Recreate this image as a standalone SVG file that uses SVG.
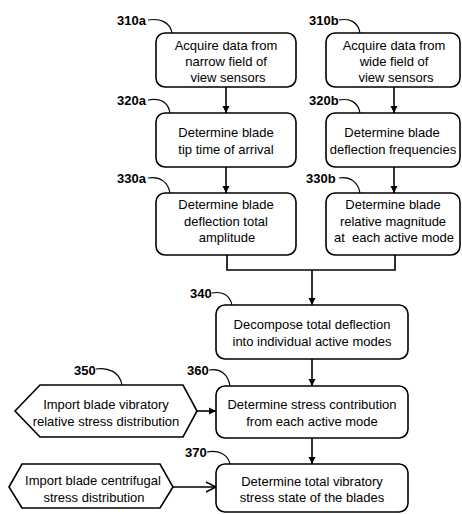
<svg xmlns="http://www.w3.org/2000/svg" width="462" height="514" viewBox="0 0 462 514">
<style>
.box{fill:#fff;stroke:#000;stroke-width:1.6}
.t{font-family:"Liberation Sans",Arial,sans-serif;font-size:13px;text-anchor:middle;fill:#000;white-space:pre}
.lb{font-family:"Liberation Sans Narrow","Liberation Sans",Arial,sans-serif;font-size:13px;font-weight:bold;fill:#000}
.ld{fill:none;stroke:#000;stroke-width:1.2}
.c{fill:none;stroke:#000;stroke-width:1.6}
</style>
<defs>
<marker id="ah" markerWidth="8" markerHeight="8" refX="7" refY="4" orient="auto" markerUnits="userSpaceOnUse">
<path d="M0,0.5 L7,4 L0,7.5 Z" fill="#000"/>
</marker>
<marker id="av" markerWidth="12" markerHeight="12" refX="11" refY="6" orient="auto" markerUnits="userSpaceOnUse">
<path d="M1,1 L11,6 L1,11" fill="none" stroke="#000" stroke-width="1.4"/>
</marker>
</defs>
<g id="connectors">
<line class="c" x1="226" y1="87" x2="226" y2="113" marker-end="url(#ah)"/>
<line class="c" x1="394" y1="87" x2="394" y2="113" marker-end="url(#ah)"/>
<line class="c" x1="226" y1="167" x2="226" y2="193" marker-end="url(#ah)"/>
<line class="c" x1="394" y1="167" x2="394" y2="193" marker-end="url(#ah)"/>
<polyline class="c" points="227,255 227,270 395,270 395,255"/>
<line class="c" x1="312" y1="270" x2="312" y2="305" marker-end="url(#ah)"/>
<line class="c" x1="312" y1="359" x2="312" y2="386" marker-end="url(#ah)"/>
<line class="c" x1="312" y1="438" x2="312" y2="464" marker-end="url(#ah)"/>
<line class="c" x1="197" y1="411" x2="216" y2="411" marker-end="url(#ah)"/>
<line class="c" x1="173" y1="487" x2="216" y2="487" marker-end="url(#av)"/>
</g>
<g id="n310a">
<rect class="box" x="156" y="33" width="140" height="54" rx="9"/>
<text class="t" x="226" y="50">Acquire data from</text>
<text class="t" x="226" y="66">narrow field of</text>
<text class="t" x="228" y="82">view sensors</text>
<text class="lb" x="117" y="25">310a</text>
<path class="ld" d="M148,20 C160,18 170,22 172,33"/>
</g>
<g id="n310b">
<rect class="box" x="326" y="33" width="134" height="54" rx="9"/>
<text class="t" x="394" y="50">Acquire data from</text>
<text class="t" x="394" y="66">wide field of</text>
<text class="t" x="396" y="82">view sensors</text>
<text class="lb" x="309" y="25">310b</text>
<path class="ld" d="M339,20 C350,18 358,22 360,33"/>
</g>
<g id="n320a">
<rect class="box" x="156" y="113" width="140" height="54" rx="9"/>
<text class="t" x="226" y="137">Determine blade</text>
<text class="t" x="226" y="154">tip time of arrival</text>
<text class="lb" x="117" y="105">320a</text>
<path class="ld" d="M148,100 C160,98 168,102 170,113"/>
</g>
<g id="n320b">
<rect class="box" x="326" y="113" width="134" height="54" rx="9"/>
<text class="t" x="392" y="137">Determine blade</text>
<text class="t" x="393" y="154">deflection frequencies</text>
<text class="lb" x="309" y="105">320b</text>
<path class="ld" d="M339,100 C350,98 358,102 360,113"/>
</g>
<g id="n330a">
<rect class="box" x="156" y="193" width="140" height="62" rx="9"/>
<text class="t" x="226" y="209">Determine blade</text>
<text class="t" x="226" y="226">deflection total</text>
<text class="t" x="227" y="242">amplitude</text>
<text class="lb" x="117" y="183">330a</text>
<path class="ld" d="M148,178 C160,176 168,182 170,193"/>
</g>
<g id="n330b">
<rect class="box" x="326" y="193" width="134" height="62" rx="9"/>
<text class="t" x="393" y="209">Determine blade</text>
<text class="t" x="393" y="226">relative magnitude</text>
<text class="t" x="394" y="242">at  each active mode</text>
<text class="lb" x="306" y="183">330b</text>
<path class="ld" d="M339,178 C350,176 358,182 360,193"/>
</g>
<g id="n340">
<rect class="box" x="216" y="305" width="192" height="54" rx="9"/>
<text class="t" x="312" y="329">Decompose total deflection</text>
<text class="t" x="312" y="346">into individual active modes</text>
<text class="lb" x="190" y="298">340</text>
<path class="ld" d="M212,293 C222,291 230,295 232,305"/>
</g>
<g id="n350">
<polygon class="box" points="15,411 40,385 183,385 197,411 183,437 40,437"/>
<text class="t" x="106" y="409">Import blade vibratory</text>
<text class="t" x="106" y="426">relative stress distribution</text>
<text class="lb" x="74" y="375">350</text>
<path class="ld" d="M96,369 C108,367 120,372 122,385"/>
</g>
<g id="n360">
<rect class="box" x="216" y="386" width="192" height="52" rx="9"/>
<text class="t" x="312" y="409">Determine stress contribution</text>
<text class="t" x="312" y="426">from each active mode</text>
<text class="lb" x="187" y="375">360</text>
<path class="ld" d="M209,370 C220,368 228,374 230,386"/>
</g>
<g id="n370">
<rect class="box" x="216" y="464" width="192" height="48" rx="9"/>
<text class="t" x="312" y="486">Determine total vibratory</text>
<text class="t" x="312" y="502">stress state of the blades</text>
<text class="lb" x="185" y="457">370</text>
<path class="ld" d="M207,452 C218,450 228,454 230,464"/>
</g>
<g id="n380">
<polygon class="box" points="9,487 22,464 160,464 173,487 160,508 22,508"/>
<text class="t" x="93" y="485">Import blade centrifugal</text>
<text class="t" x="94" y="502">stress distribution</text>
</g>
</svg>
